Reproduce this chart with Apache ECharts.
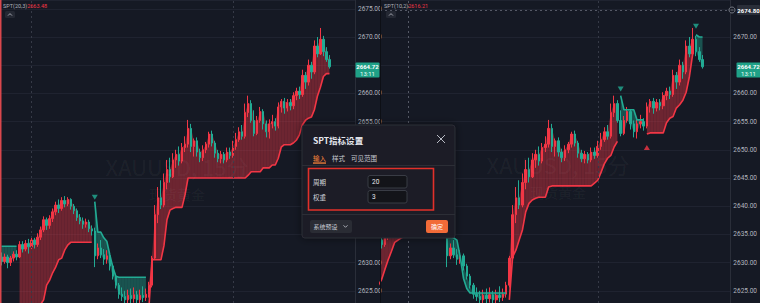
<!DOCTYPE html>
<html>
<head>
<meta charset="utf-8">
<script src="https://cdn.jsdelivr.net/npm/echarts@6/dist/echarts.min.js"></script>
<style>
  html, body { margin: 0; padding: 0; background: #151924; }
  #chart { width: 760px; height: 303px; }
</style>
</head>
<body>
<div id="chart"></div>
<script>
// XAUUSD 15分, [open, close, low, high]
const candles = [
  [2631.0,2630.2,2629.5,2631.8],[2630.2,2631.0,2629.8,2631.6],[2631.0,2630.0,2629.0,2631.4],[2630.0,2630.8,2629.4,2631.2],
  [2630.8,2631.5,2630.2,2632.0],[2631.5,2631.0,2630.4,2632.2],[2631.0,2633.2,2630.8,2633.8],[2633.2,2632.4,2631.8,2633.8],
  [2632.4,2633.4,2632.0,2634.0],[2633.4,2632.8,2631.6,2634.2],[2632.8,2634.0,2632.4,2634.6],[2634.0,2633.2,2632.5,2634.4],
  [2633.2,2634.5,2632.8,2635.2],[2634.5,2635.8,2634.0,2636.4],[2635.8,2637.6,2635.4,2638.2],[2637.6,2636.6,2635.8,2638.0],
  [2636.6,2637.8,2636.0,2638.4],[2637.8,2639.0,2637.2,2639.6],[2639.0,2640.2,2638.4,2640.8],[2640.2,2639.6,2638.8,2641.2],
  [2639.6,2641.0,2639.2,2641.6],[2641.0,2640.4,2639.8,2641.8],[2640.4,2641.2,2640.0,2641.6],[2641.2,2640.0,2639.4,2641.4],
  [2640.0,2639.2,2638.6,2640.4],[2639.2,2638.0,2637.4,2639.6],[2638.0,2637.4,2636.8,2638.6],[2637.4,2636.8,2636.0,2638.0],
  [2636.8,2637.2,2636.2,2637.8],[2637.2,2636.0,2635.4,2637.6],[2636.0,2635.6,2634.8,2636.6],[2635.6,2631.2,2629.2,2636.2],
  [2631.2,2632.6,2630.6,2633.4],[2632.6,2631.4,2630.8,2634.0],[2631.4,2630.6,2629.6,2632.4],[2630.6,2631.2,2629.8,2632.2],
  [2631.2,2629.4,2628.6,2631.6],[2629.4,2627.6,2627.0,2629.8],[2627.6,2626.0,2625.4,2628.0],[2626.0,2624.4,2623.6,2626.4],
  [2624.4,2624.0,2623.2,2625.6],[2624.0,2623.4,2622.8,2625.0],[2623.4,2624.2,2622.6,2625.2],[2624.2,2623.6,2622.8,2625.4],
  [2623.6,2624.3,2622.9,2625.6],[2624.3,2623.4,2622.6,2625.0],[2623.4,2624.2,2622.8,2625.2],[2624.2,2623.8,2623.0,2625.8],
  [2623.8,2624.4,2623.2,2625.4],[2624.4,2626.0,2623.8,2626.6],[2626.0,2630.8,2625.6,2631.2],[2630.8,2638.5,2630.5,2640.2],
  [2638.5,2641.5,2637.0,2643.4],[2641.5,2640.2,2639.5,2644.6],[2640.2,2644.2,2639.8,2645.8],[2644.2,2646.5,2643.0,2648.2],
  [2646.5,2645.2,2644.2,2648.6],[2645.2,2648.2,2645.0,2649.4],[2648.2,2649.2,2646.8,2650.0],[2649.2,2648.0,2647.2,2650.6],
  [2648.0,2650.4,2647.6,2651.2],[2650.4,2651.0,2649.6,2652.4],[2651.0,2653.8,2650.4,2655.3],[2653.8,2650.6,2649.6,2654.6],
  [2650.6,2651.6,2648.8,2652.0],[2651.6,2649.6,2648.8,2652.2],[2649.6,2648.6,2647.8,2650.2],[2648.6,2650.0,2648.0,2650.8],
  [2650.0,2651.0,2649.4,2651.4],[2651.0,2652.8,2650.4,2653.2],[2652.8,2651.2,2650.6,2653.4],[2651.2,2649.4,2648.6,2651.6],
  [2649.4,2648.4,2647.8,2650.0],[2648.4,2649.2,2647.6,2649.8],[2649.2,2648.2,2647.6,2649.6],[2648.2,2649.6,2647.8,2650.4],
  [2649.6,2649.0,2648.4,2650.4],[2649.0,2650.6,2648.6,2651.6],[2650.6,2651.8,2650.0,2653.0],[2651.8,2653.2,2651.4,2654.0],
  [2653.2,2652.4,2651.8,2654.4],[2652.4,2656.6,2652.0,2658.2],[2656.6,2658.2,2655.8,2659.6],[2658.2,2655.2,2654.8,2658.8],
  [2655.2,2652.9,2652.4,2657.0],[2652.9,2655.2,2652.6,2656.0],[2655.2,2656.8,2654.8,2657.6],[2656.8,2654.6,2653.6,2657.2],
  [2654.6,2653.2,2652.2,2655.2],[2653.2,2654.6,2652.0,2655.4],[2654.6,2655.0,2653.8,2656.2],[2655.0,2654.2,2653.4,2655.6],
  [2654.2,2657.6,2653.8,2658.4],[2657.6,2658.6,2656.6,2659.0],[2658.6,2657.4,2656.4,2659.2],[2657.4,2658.4,2656.8,2659.0],
  [2658.4,2657.8,2657.0,2659.0],[2657.8,2659.6,2657.2,2660.2],[2659.6,2660.4,2658.8,2661.0],[2660.4,2659.8,2659.0,2661.2],
  [2659.8,2663.2,2659.4,2664.2],[2663.2,2662.0,2660.8,2663.8],[2662.0,2665.0,2661.4,2666.0],[2665.0,2663.8,2662.6,2665.6],
  [2663.8,2668.4,2663.4,2669.4],[2668.4,2667.0,2666.4,2670.0],[2667.0,2669.6,2666.8,2671.6],[2669.6,2667.4,2666.6,2670.2],
  [2667.4,2666.0,2665.6,2668.2],[2666.0,2664.72,2664.4,2666.8]
];

// SPT(20,3) line (left panel)
const sptSlow = [
  2632.9,2632.9,2632.9,2632.9,2632.9,2632.9,
  2619.0,2619.0,2619.4,2619.8,2620.4,2621.0,2622.0,2622.6,2623.4,2626.0,
  2626.9,2628.2,2629.2,2630.5,2630.8,2632.2,2633.1,2633.6,2633.6,2633.6,
  2633.6,2633.6,2633.6,2633.6,2633.6,
  2640.8,2635.4,2635.4,2634.4,2633.8,2631.4,2629.2,2627.6,2627.4,2627.4,
  2627.4,2627.4,2627.4,2627.4,2627.4,2627.4,2627.4,2627.4,
  2622.0,2630.5,2630.5,2630.5,2630.5,2633.0,2637.6,2639.3,2639.6,2639.8,
  2639.8,2639.8,2642.0,2645.0,2645.0,2645.0,2645.0,2645.0,2645.0,2645.0,
  2645.0,2645.0,2645.0,2645.0,2645.0,2645.0,2645.0,2645.0,2645.0,2645.0,
  2645.0,2645.0,2645.0,2645.5,2646.1,2646.1,2646.1,2646.1,2646.8,2646.8,
  2646.8,2647.3,2647.3,2648.5,2650.5,2650.9,2650.9,2650.9,2651.2,2651.7,
  2652.6,2654.4,2655.2,2655.6,2655.8,2657.1,2659.5,2661.1,2663.0,2663.5,
  2663.5
];
// trend runs: [direction, bar count], 1 = up (red), -1 = down (green)
const sptSlowRuns = [[-1, 6], [1, 25], [-1, 18], [1, 61]];

// SPT(10,2) line (right panel)
const sptFast = [
  2633.0,2633.0,2633.0,2633.0,2633.0,2633.0,
  2625.0,2625.2,2625.4,2625.6,2626.0,2627.0,2628.8,2630.5,2632.0,2633.6,
  2634.0,2634.4,2634.6,2634.6,2634.6,2634.6,2634.6,2634.6,2634.6,2634.6,
  2634.6,2634.6,2634.6,2634.6,2634.6,
  2634.4,2634.4,2634.4,2634.0,2631.0,2627.2,2625.4,2624.6,2624.6,2624.6,
  2624.6,2624.6,2624.6,2624.6,2624.6,2624.6,2624.6,2624.6,2624.6,
  2623.4,2631.0,2632.2,2634.0,2635.8,2639.0,2640.5,2641.1,2641.4,2641.6,
  2641.6,2641.6,2643.4,2643.6,2643.6,2643.6,2643.6,2643.6,2643.6,2643.6,
  2643.6,2643.6,2643.6,2643.6,2643.6,2643.6,2644.1,2644.6,2646.0,2647.5,
  2648.5,2649.0,2650.5,2651.5,
  2659.6,2657.1,2657.1,2657.1,2657.1,2655.3,2655.3,2655.3,
  2652.8,2653.0,2653.0,2653.0,2653.0,2653.0,2654.8,2655.6,2655.9,2657.4,
  2658.0,2658.8,2660.2,2663.0,2667.0,
  2670.4,2670.0,2670.0
];
const sptFastRuns = [[-1, 6], [1, 25], [-1, 19], [1, 34], [-1, 8], [1, 15], [-1, 3]];

// signal triangles: [bar, price, direction]
const sigSlow = [[31, 2641.6, -1]];
const sigFast = [[84, 2660.8, -1], [92, 2650.4, 1], [107, 2671.9, -1]];

// visible price window of both panels
const priceMin = 2622.84, priceMax = 2676.56;
// labels covered by the dialog, price badge or crosshair label
const hideLeft = [2635, 2640, 2645, 2650, 2665];
const hideRight = [2665, 2675];

const slotCount = 118;
const cats = Array.from({ length: slotCount }, (_, i) => i);
const expand = runs => runs.flatMap(([d, n]) => Array(n).fill(d));
const dirSlow = expand(sptSlowRuns);
const dirFast = expand(sptFastRuns);

const UP = '#f23645', DOWN = '#22ab94';
const FONT = 'Roboto';
const CJK = '"Noto Sans CJK SC"';

function panelSeries(k, line, dir, sig, vlines) {
  const edge = (i) => dir[i] > 0 ? Math.max(candles[i][0], candles[i][1]) : Math.min(candles[i][0], candles[i][1]);
  return [
    {
      type: 'custom', xAxisIndex: k, yAxisIndex: k, clip: true, silent: true, z: 1,
      data: line.slice(0, -1).map((v, i) => [i, v]),
      encode: { x: 0, y: 1 },
      renderItem(params, api) {
        const i = api.value(0);
        if (dir[i] !== dir[i + 1]) return;
        const pts = [
          api.coord([i, line[i]]), api.coord([i + 1, line[i + 1]]),
          api.coord([i + 1, edge(i + 1)]), api.coord([i, edge(i)])
        ];
        return {
          type: 'polygon', shape: { points: pts },
          style: { fill: dir[i] > 0 ? 'rgba(242,54,69,0.40)' : 'rgba(34,171,148,0.40)' }
        };
      }
    },
    {
      type: 'candlestick', xAxisIndex: k, yAxisIndex: k, data: candles, barWidth: '62%', z: 2,
      itemStyle: { color: UP, color0: DOWN, borderColor: UP, borderColor0: DOWN, borderWidth: 1 },
      markLine: {
        symbol: 'none', silent: true, animation: false, label: { show: false },
        lineStyle: { type: [2, 3], color: '#363a47', width: 1 },
        data: vlines
      }
    },
    {
      type: 'line', xAxisIndex: k, yAxisIndex: k, symbol: 'none', z: 3,
      data: line.map((v, i) => dir[i] > 0 ? v : null),
      lineStyle: { color: UP, width: 1.6 }
    },
    {
      type: 'line', xAxisIndex: k, yAxisIndex: k, symbol: 'none', z: 3,
      data: line.map((v, i) => dir[i] < 0 ? v : null),
      lineStyle: { color: DOWN, width: 1.6 }
    },
    {
      type: 'scatter', xAxisIndex: k, yAxisIndex: k, symbol: 'triangle', symbolSize: [6, 5], z: 4,
      data: sig.map(s => ({
        value: [s[0], s[1]], symbolRotate: s[2] < 0 ? 180 : 0,
        itemStyle: { color: s[2] < 0 ? DOWN : UP }
      }))
    }
  ];
}

function yAxis(k, hidden) {
  return {
    type: 'value', gridIndex: k, position: 'right', min: priceMin, max: priceMax, splitNumber: 10,
    axisLine: { show: true, lineStyle: { color: '#2a2e39' } },
    axisTick: { show: false },
    axisLabel: {
      color: '#b2b5be', fontSize: 6.5, fontFamily: FONT, margin: 3,
      showMinLabel: false, showMaxLabel: false,
      formatter: v => hidden.some(h => Math.abs(h - v) < 0.01) ? '' : v.toFixed(2)
    },
    splitLine: { lineStyle: { color: '#1f2330', width: 1 } }
  };
}

const txt = (x, y, text, font, fill, align, z) => ({
  type: 'text', x, y, z: z || 52,
  style: { text, font, fill, textAlign: align || 'left', textVerticalAlign: 'middle' }
});
const legend = (x, name, value) => ({
  type: 'text', x, y: 5.5, z: 40,
  style: {
    text: '{n|' + name + '}{v|' + value + '}', textVerticalAlign: 'middle',
    rich: {
      n: { fill: '#aeb1ba', font: '5.5px ' + FONT },
      v: { fill: UP, font: '5.5px ' + FONT }
    }
  }
});
const rect = (x, y, w, h, style, z, r) => ({
  type: 'rect', z: z || 51, shape: { x, y, width: w, height: h, r: r || 0 }, style
});
const seg = (x1, y1, x2, y2, stroke, lw, z) => ({
  type: 'line', z: z || 52, shape: { x1, y1, x2, y2 }, style: { stroke, lineWidth: lw || 1 }
});

const graphic = [
  // watermarks
  txt(177, 166, 'XAUUSD, 15分', '22px ' + CJK, 'rgba(255,255,255,0.05)', 'center', 0),
  txt(177, 194, '现货黄金', '14px ' + CJK, 'rgba(255,255,255,0.05)', 'center', 0),
  txt(558, 164, 'XAUUSD, 15分', '22px ' + CJK, 'rgba(255,255,255,0.05)', 'center', 0),
  txt(558, 192, '现货黄金', '14px ' + CJK, 'rgba(255,255,255,0.05)', 'center', 0),

  // panel frames
  seg(0.75, 0, 0.75, 303, '#d9474c', 1.5, 40),
  seg(380.5, 0, 380.5, 303, '#0d0f15', 1, 40),

  // indicator legends
  legend(3, 'SPT(20,3)', '2663.48'),
  rect(5, 11, 10, 7, { fill: '#242833' }, 40, 1.5),
  { type: 'polyline', z: 41, shape: { points: [[8, 15.6], [10, 13.6], [12, 15.6]] }, style: { stroke: '#c0c3cc', lineWidth: 0.8, fill: null } },
  legend(384, 'SPT(10,2)', '2616.21'),
  rect(386, 11, 10, 7, { fill: '#242833' }, 40, 1.5),
  { type: 'polyline', z: 41, shape: { points: [[389, 15.6], [391, 13.6], [393, 15.6]] }, style: { stroke: '#c0c3cc', lineWidth: 0.8, fill: null } },

  // last price badges
  rect(355.5, 62.5, 24, 15, { fill: '#1fa187' }, 40, 1),
  txt(367.5, 66.5, '2664.72', 'bold 6px ' + FONT, '#ffffff', 'center', 41),
  txt(367.5, 73.5, '13:11', '6px ' + FONT, '#e8fff8', 'center', 41),
  rect(736.5, 62.5, 24, 15, { fill: '#1fa187' }, 40, 1),
  txt(748.5, 66.5, '2664.72', 'bold 6px ' + FONT, '#ffffff', 'center', 41),
  txt(748.5, 73.5, '13:11', '6px ' + FONT, '#e8fff8', 'center', 41),

  // crosshair price label
  rect(737, 5, 23, 10, { fill: '#2a2e39' }, 40, 1),
  txt(748.5, 10, '2674.80', 'bold 6px ' + FONT, '#ffffff', 'center', 41),
  { type: 'circle', z: 41, shape: { cx: 732, cy: 10, r: 3 }, style: { stroke: '#8d909a', lineWidth: 0.8, fill: '#151924' } },
  seg(730.5, 10, 733.5, 10, '#8d909a', 0.8, 42),

  // settings dialog
  rect(302, 125, 153, 113, { fill: '#1d1f27', stroke: '#2a2c34', lineWidth: 1, shadowBlur: 8, shadowColor: 'rgba(0,0,0,0.5)' }, 50, 3),
  txt(313, 139.5, 'SPT指标设置', 'bold 8.5px ' + CJK, '#e6e8ee'),
  seg(437, 135, 445, 143, '#b8bbc4', 1),
  seg(445, 135, 437, 143, '#b8bbc4', 1),
  txt(313, 158, '输入', '6.5px ' + CJK, '#f5823a'),
  txt(332, 158, '样式', '6.5px ' + CJK, '#c5c8d0'),
  txt(351, 158, '可见范围', '6.5px ' + CJK, '#c5c8d0'),
  rect(313, 162.4, 13, 1.3, { fill: '#f5823a' }, 52),
  seg(302, 165.5, 455, 165.5, '#2c2e36', 1, 51),
  rect(308.5, 168.5, 125, 41.5, { fill: null, stroke: '#e2302a', lineWidth: 1.6 }, 53),
  txt(313, 181.5, '周期', '6.5px ' + CJK, '#d1d4dc'),
  txt(313, 197, '权重', '6.5px ' + CJK, '#d1d4dc'),
  rect(368, 175.5, 39, 12.5, { fill: '#131419', stroke: '#393c45', lineWidth: 1 }, 51, 2),
  rect(368, 190.5, 39, 12.5, { fill: '#131419', stroke: '#393c45', lineWidth: 1 }, 51, 2),
  txt(372, 182, '20', '6.5px ' + FONT, '#e6e8ee'),
  txt(372, 197, '3', '6.5px ' + FONT, '#e6e8ee'),
  seg(302, 214.5, 455, 214.5, '#2c2e36', 1, 51),
  rect(310, 220, 42, 13, { fill: '#2a2c34' }, 51, 2),
  txt(313.5, 226.5, '系统预设', '6px ' + CJK, '#c9ccd4'),
  { type: 'polyline', z: 52, shape: { points: [[343.5, 225.3], [345.5, 227.3], [347.5, 225.3]] }, style: { stroke: '#c9ccd4', lineWidth: 0.8, fill: null } },
  rect(426, 220, 22, 13, { fill: '#f26b38' }, 51, 2),
  txt(437, 226.5, '确定', '6px ' + CJK, '#ffffff', 'center')
];

const chart = echarts.init(document.getElementById('chart'), null, { renderer: 'svg' });
chart.setOption({
  animation: false,
  backgroundColor: '#151924',
  grid: [
    { left: 0, top: 0, width: 355, height: 303 },
    { left: 380, top: 0, width: 356, height: 303 }
  ],
  xAxis: [
    { type: 'category', gridIndex: 0, data: cats, show: false },
    { type: 'category', gridIndex: 1, data: cats, show: false, min: 11, max: 117 }
  ],
  yAxis: [yAxis(0, hideLeft), yAxis(1, hideRight)],
  series: [
    ...panelSeries(0, sptSlow, dirSlow, sigSlow, [{ xAxis: 10 }, { xAxis: 77 }]),
    ...panelSeries(1, sptFast, dirFast, sigFast, [
      { xAxis: 19, lineStyle: { color: '#555966' } },
      { xAxis: 77 },
      { yAxis: 2674.8, lineStyle: { color: '#555966' } }
    ])
  ],
  graphic
});
</script>
</body>
</html>
